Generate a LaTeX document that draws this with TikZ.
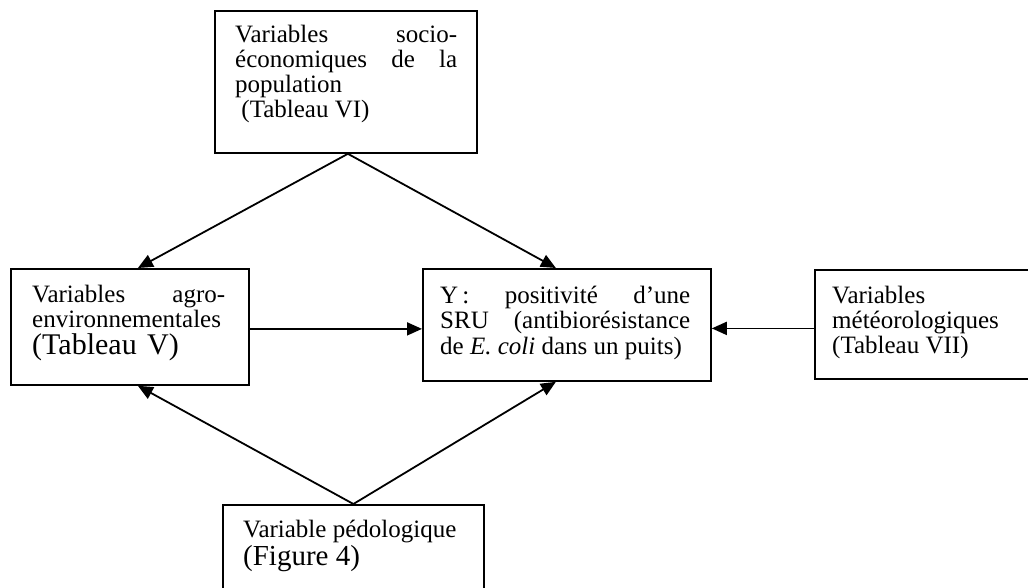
\documentclass[tikz,border=0pt]{standalone}
\usepackage{fontspec}
\setmainfont{Liberation Serif}
\usetikzlibrary{arrows.meta,calc}
\hyphenpenalty=10000
\begin{document}
\begin{tikzpicture}[x=1pt,y=-1pt]
\tikzset{
  box/.style={draw, line width=1.8pt, inner sep=0pt, anchor=north west},
  txt/.style={inner sep=0pt, anchor=base west, align=justify,
    font={\fontsize{25}{25}\selectfont}},
  link/.style={line width=1.8pt, -{Triangle[length=15pt,width=13pt]}}
}
\useasboundingbox (0,0) rectangle (1028,588);

% boxes (the last two run past the page edge)
\node[box, minimum width=262pt, minimum height=142pt] (soc) at (214,10) {};
\node[box, minimum width=238pt, minimum height=116pt] (agro) at (10,268) {};
\node[box, minimum width=288pt, minimum height=112pt] (y) at (422,268) {};
\node[box, minimum width=230pt, minimum height=109pt] (met) at (814,269) {};
\node[box, minimum width=261pt, minimum height=110pt] (pedo) at (222,504) {};

% texts
\node[txt, text width=222pt] (socT) at (235,43)
  {Variables socio-\linebreak économiques de la\linebreak population\newline
   \hspace*{0.25em}(Tableau VI)};
\node[txt, text width=193pt] (agroT) at (32,302)
  {Variables agro-\linebreak environnementales\par
   {\fontsize{30}{27}\selectfont(Tableau\hspace{0.1em} V)\par}};
\node[txt, text width=250pt, font={\fontsize{25}{25.5}\selectfont}] (yT) at (440,303)
  {Y\,: positivité d’une\linebreak SRU (antibiorésistance\linebreak
   de \textit{E. coli} dans un puits)};
\node[txt, text width=180pt] (metT) at (832,303)
  {Variables\newline météorologiques\newline (Tableau VII)};
\node[txt, text width=230pt] (pedoT) at (243,537)
  {Variable pédologique\par
   {\fontsize{29}{28}\selectfont(Figure 4)\par}};

% connectors
\draw[link] ([xshift=2pt]soc.south) -- ([xshift=8pt]agro.north);
\draw[link] ([xshift=2pt]soc.south) -- ([xshift=-11pt]y.north);
\draw[link] ([yshift=-2pt]agro.east) -- ([yshift=-2pt]agro.east -| y.west);
\draw[link] ([yshift=-4pt]met.west) -- ([yshift=-4pt]met.west -| y.east);
\draw[link] (pedo.north) -- ([xshift=8pt]agro.south);
\draw[link] (pedo.north) -- ([xshift=-11pt]y.south);
\end{tikzpicture}
\end{document}
